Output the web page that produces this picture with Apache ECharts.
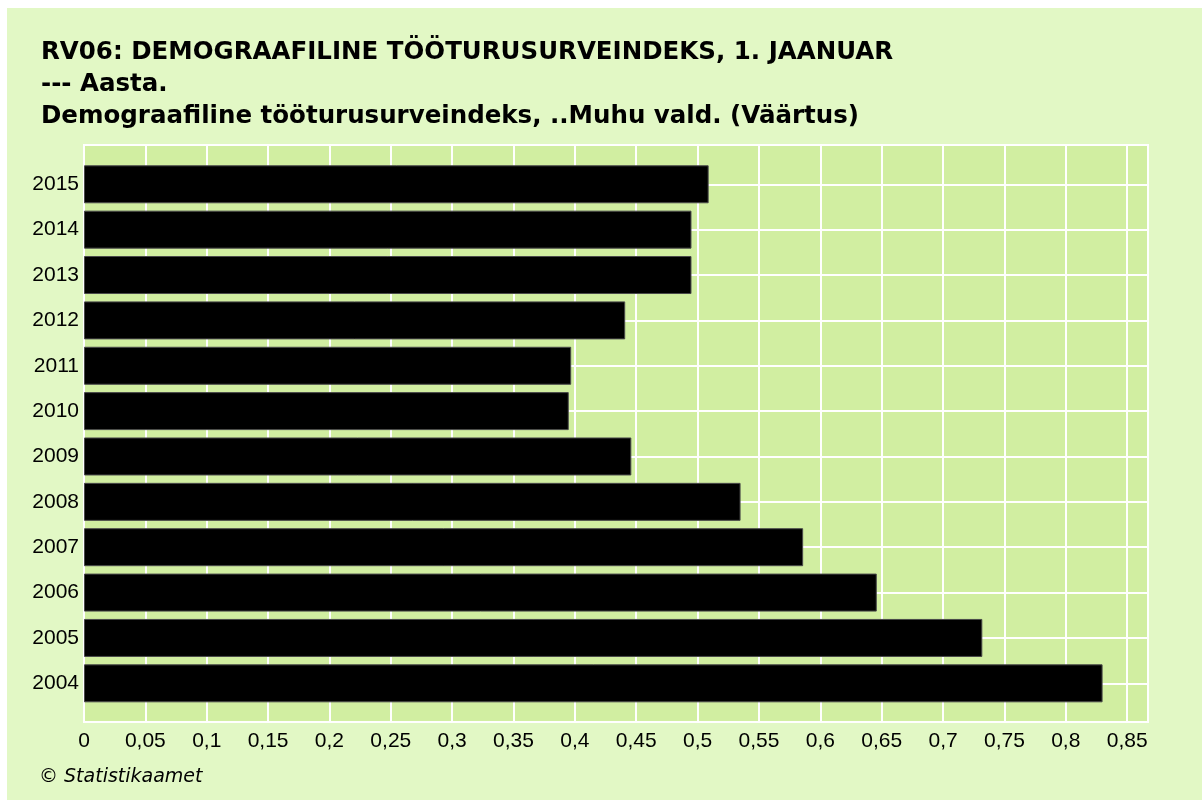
<!DOCTYPE html>
<html>
<head>
<meta charset="utf-8">
<title>RV06</title>
<script src="https://cdn.jsdelivr.net/npm/echarts@6/dist/echarts.min.js"></script>
<style>
  html, body { margin: 0; padding: 0; background: #fff; }
  .panel { position: absolute; left: 7px; top: 8px; right: 0; bottom: 0; background: #e2f8c5; }
  .mychart { position: absolute; left: 0; top: 0; width: 1202px; height: 800px; }
</style>
</head>
<body>
<div class="panel"></div>
<div class="mychart" id="chart"></div>
<script>
// andmed
const years = ['2004', '2005', '2006', '2007', '2008', '2009', '2010', '2011', '2012', '2013', '2014', '2015'];
const values = [0.830, 0.732, 0.646, 0.586, 0.535, 0.446, 0.395, 0.397, 0.441, 0.495, 0.495, 0.509];
const xMax = 0.867;
const xStep = 0.05;

const font = 'Liberation Sans, Arial, sans-serif';
const wideFont = 'DejaVu Sans, Verdana, sans-serif';
const plotLeft = 84;
const plotWidth = 1064;

const fmt = (v) => String(Math.round(v * 100) / 100).replace('.', ',');

const chart = echarts.init(document.getElementById('chart'));

const option = {
  backgroundColor: 'transparent',
  animation: false,
  title: {
    text: 'RV06: DEMOGRAAFILINE TÖÖTURUSURVEINDEKS, 1. JAANUAR\n--- Aasta.\nDemograafiline tööturusurveindeks, ..Muhu vald. (Väärtus)',
    left: 41,
    top: 37,
    padding: 0,
    textStyle: {
      fontFamily: wideFont,
      fontSize: 24.5,
      fontWeight: 'bold',
      color: '#000',
      lineHeight: 32
    }
  },
  graphic: [
    {
      type: 'text',
      left: 39,
      top: 768,
      style: {
        text: '© Statistikaamet',
        font: 'italic 19px ' + wideFont,
        fill: '#000'
      }
    }
  ],
  grid: [
    // palkide ala (kategooriate keskkohad 184..683)
    { left: plotLeft, width: plotWidth, top: 161.6, height: 544.4 },
    // joonise raam
    {
      left: plotLeft, width: plotWidth, top: 145, height: 577,
      show: true, backgroundColor: '#d1eea1', borderColor: '#ffffff', borderWidth: 2
    },
    // horisontaalsed jooned
    { left: plotLeft, width: plotWidth, top: 184.3, height: 499 }
  ],
  xAxis: [
    {
      gridIndex: 0, type: 'value', min: 0, max: xMax,
      axisLine: { show: false }, axisTick: { show: false },
      axisLabel: { show: false }, splitLine: { show: false }
    },
    {
      gridIndex: 1, type: 'value', min: 0, max: xMax, interval: xStep,
      axisLine: { show: false }, axisTick: { show: false },
      axisLabel: {
        showMaxLabel: false,
        margin: 9,
        fontFamily: font, fontSize: 21, color: '#000',
        formatter: fmt
      },
      splitLine: { show: true, lineStyle: { color: '#ffffff', width: 2 } }
    },
    {
      gridIndex: 2, type: 'value', min: 0, max: xMax,
      axisLine: { show: false }, axisTick: { show: false },
      axisLabel: { show: false }, splitLine: { show: false }
    }
  ],
  yAxis: [
    {
      gridIndex: 0, type: 'category', data: years,
      axisLine: { show: false }, axisTick: { show: false },
      axisLabel: { margin: 5, fontFamily: font, fontSize: 21, color: '#000' },
      splitLine: { show: false }
    },
    {
      gridIndex: 1, type: 'value',
      axisLine: { show: false }, axisTick: { show: false },
      axisLabel: { show: false }, splitLine: { show: false }
    },
    {
      gridIndex: 2, type: 'value', min: 0, max: years.length - 1, interval: 1,
      axisLine: { show: false }, axisTick: { show: false },
      axisLabel: { show: false },
      splitLine: { show: true, lineStyle: { color: '#ffffff', width: 2 } }
    }
  ],
  series: [
    {
      type: 'bar',
      xAxisIndex: 0,
      yAxisIndex: 0,
      data: values,
      barWidth: 38,
      itemStyle: { color: '#000', borderColor: '#4a4a4a', borderWidth: 1 },
      z: 5
    }
  ]
};

chart.setOption(option);
</script>
</body>
</html>
